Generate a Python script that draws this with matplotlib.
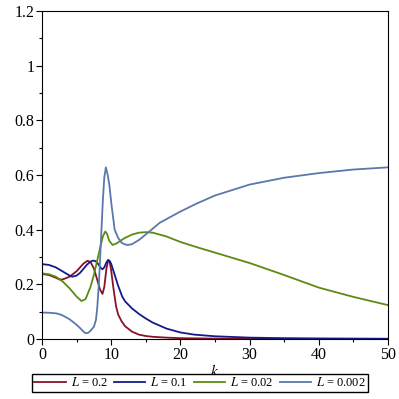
import matplotlib
matplotlib.use("Agg")
import matplotlib.pyplot as plt
from matplotlib.ticker import MultipleLocator, FixedLocator

plt.rcParams['font.family'] = ['Liberation Serif', 'DejaVu Serif']
plt.rcParams['mathtext.fontset'] = 'stix'

# values
k_red = [0, 1, 2, 2.5, 3, 4, 5, 5.5, 6, 6.57, 7, 7.5, 8, 8.4, 8.74, 9, 9.3, 9.56,
         9.8, 10, 10.3, 10.7, 11, 11.5, 12, 13, 14, 15, 16, 18, 20, 25, 30, 40, 50]
red = [0.238, 0.234, 0.224, 0.218, 0.218, 0.228, 0.248, 0.262, 0.276, 0.286, 0.282,
       0.258, 0.215, 0.18, 0.165, 0.19, 0.255, 0.289, 0.28, 0.25, 0.19, 0.12, 0.09,
       0.065, 0.047, 0.027, 0.016, 0.011, 0.008, 0.005, 0.003, 0.0015, 0.001,
       0.0005, 0.0003]

k_blue = [0, 1, 2, 3, 4, 4.4, 5, 5.5, 6, 6.5, 7, 7.4, 7.8, 8.2, 8.5, 8.74, 9, 9.3,
          9.56, 9.8, 10, 10.5, 11, 11.6, 12, 13, 14, 15, 16, 18, 20, 22, 25, 30,
          35, 40, 50]
blue = [0.274, 0.271, 0.262, 0.247, 0.232, 0.228, 0.232, 0.242, 0.257, 0.272, 0.283,
        0.287, 0.284, 0.272, 0.26, 0.255, 0.262, 0.28, 0.289, 0.285, 0.275, 0.235,
        0.195, 0.155, 0.138, 0.112, 0.092, 0.075, 0.06, 0.038, 0.024, 0.016, 0.01,
        0.005, 0.003, 0.002, 0.001]

k_green = [0, 1, 2, 3, 4, 5, 5.7, 6.3, 7, 7.5, 8, 8.5, 8.8, 9.13, 9.4, 9.7, 10.2,
           10.8, 11.5, 12, 13, 14, 15, 16, 18, 20, 22.75, 25, 30, 35, 40, 45, 50]
green = [0.24, 0.237, 0.228, 0.21, 0.185, 0.155, 0.139, 0.146, 0.19, 0.235, 0.289,
         0.345, 0.375, 0.393, 0.385, 0.36, 0.344, 0.35, 0.362, 0.37, 0.382, 0.389,
         0.391, 0.389, 0.375, 0.355, 0.333, 0.316, 0.278, 0.234, 0.188, 0.154, 0.124]

k_lblue = [0, 1, 2, 2.5, 3, 4, 5, 5.5, 6, 6.33, 6.7, 7, 7.5, 7.8, 8, 8.25, 8.5, 8.8,
           9, 9.23, 9.5, 9.75, 10, 10.5, 11, 11.5, 12, 12.4, 13, 14, 15.5, 17, 19.9,
           22.3, 25, 30, 35, 40, 45, 50]
lblue = [0.097, 0.096, 0.094, 0.091, 0.086, 0.072, 0.052, 0.04, 0.027, 0.021, 0.023,
         0.03, 0.045, 0.07, 0.12, 0.215, 0.35, 0.51, 0.59, 0.628, 0.6, 0.56, 0.5,
         0.40, 0.37, 0.352, 0.346, 0.344, 0.347, 0.362, 0.393, 0.425, 0.465, 0.495,
         0.525, 0.565, 0.59, 0.607, 0.62, 0.628]

labels = [r'$L$ = 0.2', r'$L$ = 0.1', r'$L$ = 0.02', r'$L$ = 0.002']
colors = ['#8c1028', '#101c8c', '#5a8c14', '#5a78aa']

yticks = [0, 0.2, 0.4, 0.6, 0.8, 1.0, 1.2]
yticklabels = ['0', '0.2', '0.4', '0.6', '0.8', '1', '1.2']
xticks = [0, 10, 20, 30, 40, 50]

fig = plt.figure(figsize=(3.99, 3.99), dpi=100)
ax = fig.add_axes([42/399, 60/399, 346/399, 328/399])

series = [(k_red, red), (k_blue, blue), (k_green, green), (k_lblue, lblue)]
for (xs, ys), lab, c in zip(series, labels, colors):
    ax.plot(xs, ys, color=c, lw=1.3, label=lab)

ax.set_xlim(0, 50)
ax.set_ylim(0, 1.2)
ax.set_xticks(xticks)
ax.xaxis.set_minor_locator(MultipleLocator(5))
ax.yaxis.set_major_locator(FixedLocator(yticks))
ax.set_yticklabels(yticklabels)
ax.yaxis.set_minor_locator(MultipleLocator(0.1))
ax.tick_params(which='both', direction='out', labelsize=11.5, width=0.8, pad=1.5)
ax.tick_params(which='major', length=4)
ax.tick_params(which='minor', length=2.5)
ax.set_xlabel(r'$k$', fontsize=11, labelpad=0)
for s in ax.spines.values():
    s.set_linewidth(0.8)

handles, labs = ax.get_legend_handles_labels()
fig.legend(handles, labs, loc='center', bbox_to_anchor=(200/399, 1 - 383/399),
           ncol=4, fontsize=9, frameon=True, fancybox=False, edgecolor='black',
           framealpha=1, handlelength=2.5, handletextpad=0.4, columnspacing=0.5,
           borderpad=0.2, borderaxespad=0)

fig.savefig('out.png', dpi=100)
